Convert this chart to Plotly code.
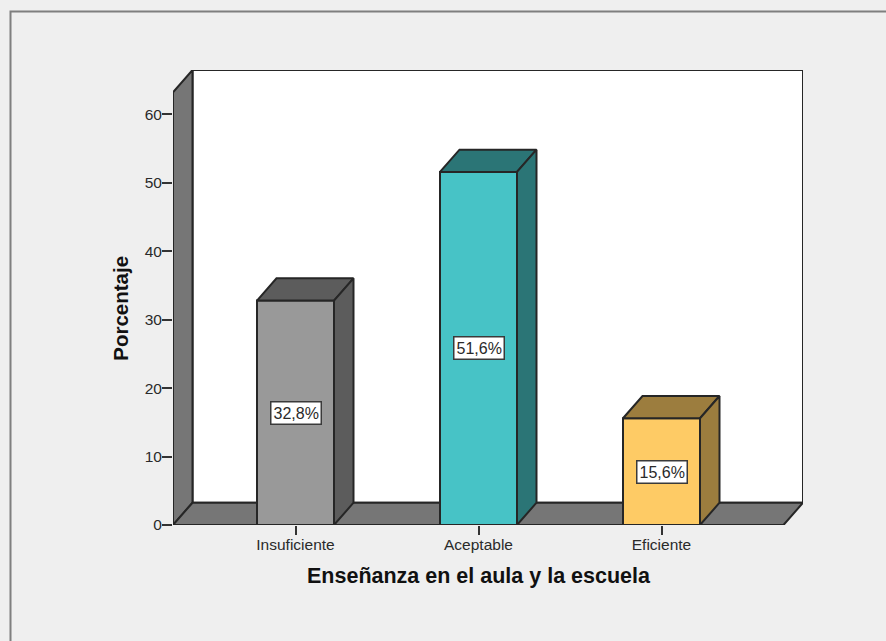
import plotly.graph_objects as go

# Survey results
categories = ["Insuficiente", "Aceptable", "Eficiente"]
percentages = [32.8, 51.6, 15.6]
value_labels = ["32,8%", "51,6%", "15,6%"]
y_ticks = [0, 10, 20, 30, 40, 50, 60]

front_colors = ["#999999", "#47c3c6", "#fecb65"]
side_colors = ["#5c5c5c", "#2b7576", "#9c7d3e"]

WIDTH, HEIGHT = 886, 641
LEFT, RIGHT, TOP, BOTTOM = 173, 803, 70, 525.5
EDGE = "#262626"
WALL = "#767676"
TEXT = "#2a2a2a"
FONT = "Liberation Sans"

# Axis scales: one category step is 183 px, one percentage point is 6.85 px
PX_PER_X = 183.0
PX_PER_Y = 6.85
X_ORIGIN = 295.5
x_min = (LEFT - X_ORIGIN) / PX_PER_X
x_max = (RIGHT - X_ORIGIN) / PX_PER_X
y_max = (BOTTOM - TOP) / PX_PER_Y

# Oblique projection used for the depth of walls and bars
DX = 19.5 / PX_PER_X
DY = 22.3 / PX_PER_Y
BAR_W = 77.0 / PX_PER_X


def path(points):
    return "M " + " L ".join(f"{x},{y}" for x, y in points) + " Z"


def wall(points, fill):
    return dict(type="path", path=path(points), xref="x", yref="y", layer="below",
                fillcolor=fill, line=dict(color=EDGE, width=2))


def paper_x(px):
    return (px - LEFT) / (RIGHT - LEFT)


def paper_y(py):
    return (BOTTOM - py) / (BOTTOM - TOP)


fig = go.Figure()

# Front faces
fig.add_trace(go.Bar(
    x=list(range(len(categories))), y=percentages, width=BAR_W,
    marker=dict(color=front_colors, line=dict(color=EDGE, width=2)),
    hoverinfo="skip", showlegend=False,
))

# Top and side faces of every bar
for i, (value, side) in enumerate(zip(percentages, side_colors)):
    x0, x1 = i - BAR_W / 2, i + BAR_W / 2
    top_x = [x0, x0 + DX, x1 + DX, x1, x0]
    top_y = [value, value + DY, value + DY, value, value]
    side_x = [x1, x1 + DX, x1 + DX, x1, x1]
    side_y = [0, DY, value + DY, value, 0]
    for xs, ys in ((top_x, top_y), (side_x, side_y)):
        fig.add_trace(go.Scatter(
            x=xs, y=ys, mode="lines", fill="toself", fillcolor=side,
            line=dict(color=EDGE, width=2), hoverinfo="skip", showlegend=False,
        ))

# Back wall, left wall and floor
top_front = y_max - DY
shapes = [
    wall([(x_min + DX, DY), (x_max, DY), (x_max, y_max), (x_min + DX, y_max)], "#ffffff"),
    wall([(x_min, 0), (x_min + DX, DY), (x_min + DX, y_max), (x_min, top_front)], WALL),
    wall([(x_min, 0), (x_max - DX, 0), (x_max, DY), (x_min + DX, DY)], WALL),
    # Frame of the output panel, open past the page edges
    dict(type="rect", xref="paper", yref="paper",
         x0=paper_x(10.5), x1=paper_x(WIDTH + 10), y0=paper_y(HEIGHT + 10), y1=paper_y(11.5),
         line=dict(color="#7f7f7f", width=2), layer="below"),
]

annotations = [
    dict(x=i, y=v / 2, xref="x", yref="y", text=t, showarrow=False,
         font=dict(family=FONT, size=16, color=TEXT), bgcolor="#ffffff",
         bordercolor="#3a3a3a", borderwidth=1.5, borderpad=2)
    for i, (v, t) in enumerate(zip(percentages, value_labels))
]
annotations.append(dict(
    x=paper_x(478.5), y=paper_y(577), xref="paper", yref="paper", showarrow=False,
    xanchor="center", yanchor="middle",
    text="Enseñanza en el aula y la escuela",
    font=dict(family=FONT, size=21.5, color="#111111", weight="bold"),
))
annotations.append(dict(
    x=paper_x(121), y=paper_y(309), xref="paper", yref="paper", showarrow=False,
    xanchor="center", yanchor="middle",
    text="Porcentaje", textangle=-90,
    font=dict(family=FONT, size=20.5, color="#111111", weight="bold"),
))

fig.update_layout(
    width=WIDTH, height=HEIGHT, autosize=False,
    margin=dict(l=LEFT, r=WIDTH - RIGHT, t=TOP, b=HEIGHT - BOTTOM, pad=0),
    paper_bgcolor="#efefef", plot_bgcolor="rgba(0,0,0,0)",
    shapes=shapes, annotations=annotations, showlegend=False,
    xaxis=dict(range=[x_min, x_max], tickmode="array",
               tickvals=list(range(len(categories))), ticktext=categories,
               ticks="outside", ticklen=9, tickwidth=2, tickcolor="#333333",
               ticklabelstandoff=-4,
               showgrid=False, zeroline=False, showline=False,
               tickfont=dict(family=FONT, size=15.5, color=TEXT)),
    yaxis=dict(range=[0, y_max], tickmode="array", tickvals=y_ticks,
               ticks="outside", ticklen=10, tickwidth=2, tickcolor="#333333",
               ticklabelstandoff=-3,
               showgrid=False, zeroline=False, showline=False,
               tickfont=dict(family=FONT, size=15.5, color=TEXT)),
)

fig.write_html("out.html")
